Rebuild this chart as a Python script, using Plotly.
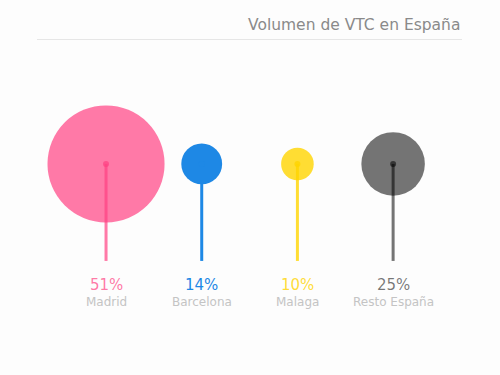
import plotly.graph_objects as go

categories = ["Madrid", "Barcelona", "Malaga", "Resto España"]
values = [51, 14, 10, 25]
colors = ["rgba(255,64,129,0.7)", "rgba(30,136,229,1)", "rgba(255,212,0,0.8)", "rgba(0,0,0,0.54)"]
title = "Volumen de VTC en España"

FONT = "DejaVu Sans"

fig = go.Figure()
for i, (cat, v, c) in enumerate(zip(categories, values, colors)):
    fig.add_trace(go.Scatter(x=[i, i], y=[0, 1], mode="lines",
                             line=dict(color=c, width=3), hoverinfo="skip", showlegend=False))
    fig.add_trace(go.Scatter(x=[i], y=[1], mode="markers",
                             marker=dict(size=12 + 2.06 * v, color=c, line=dict(width=0)),
                             showlegend=False, name=cat))
    fig.add_trace(go.Scatter(x=[i], y=[1], mode="markers",
                             marker=dict(size=6, color=c, line=dict(width=0)),
                             hoverinfo="skip", showlegend=False))
    fig.add_annotation(x=i, y=-0.247, xref="x", yref="y", text=f"{v}%", showarrow=False,
                       font=dict(family=FONT, size=15, color=c), yanchor="middle")
    fig.add_annotation(x=i, y=-0.423, xref="x", yref="y", text=cat, showarrow=False,
                       font=dict(family=FONT, size=12, color="#c4c4c4"), yanchor="middle")

fig.add_annotation(x=462 / 500, y=1 - 24.5 / 375, xref="paper", yref="paper", text=title,
                   showarrow=False, xanchor="right", yanchor="middle",
                   font=dict(family=FONT, size=15.5, color="#8a8a8a"))
fig.add_shape(type="line", xref="paper", yref="paper", x0=37 / 500, x1=462 / 500,
              y0=1 - 39.5 / 375, y1=1 - 39.5 / 375, line=dict(color="#e6e6e6", width=1))

fig.update_layout(
    width=500, height=375,
    margin=dict(l=0, r=0, t=0, b=0),
    paper_bgcolor="#fdfdfd", plot_bgcolor="#fdfdfd",
    xaxis=dict(range=[-1.108, 4.117], visible=False, fixedrange=True),
    yaxis=dict(range=[-1.176, 2.690], visible=False, fixedrange=True),
    font=dict(family=FONT),
)
fig.write_html("out.html", config={"displayModeBar": False},
               post_script="document.body.style.margin='0';document.body.style.overflow='hidden';")
